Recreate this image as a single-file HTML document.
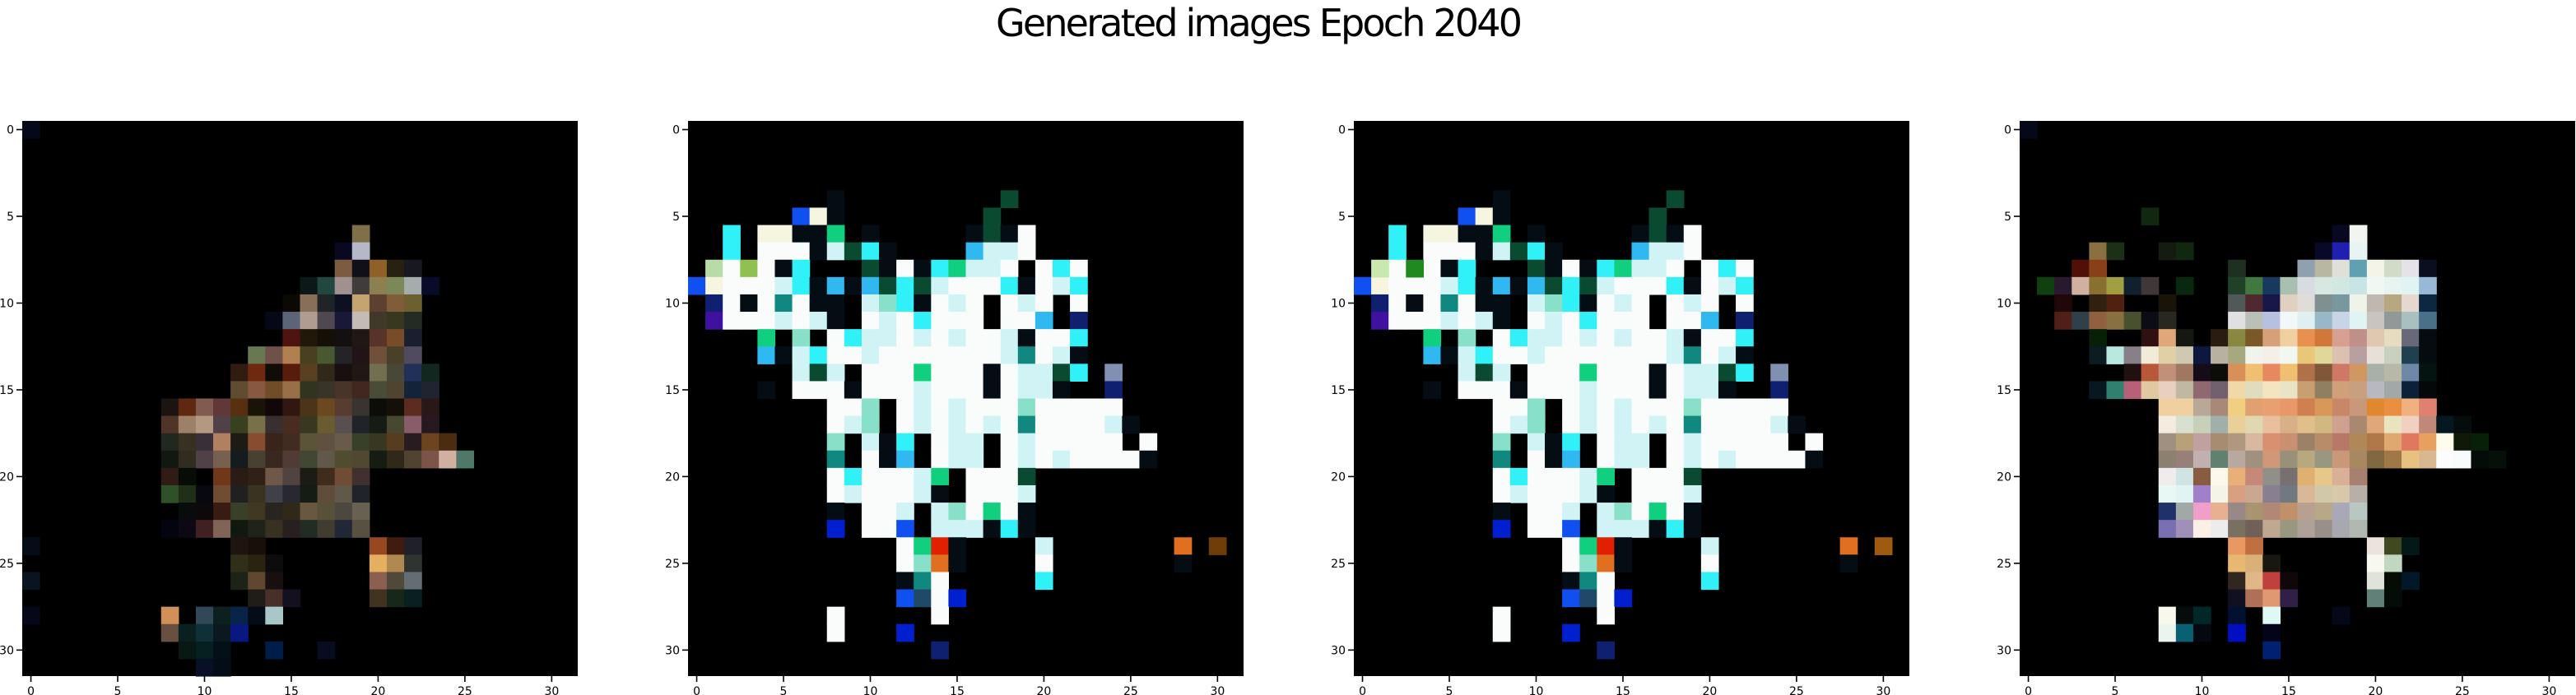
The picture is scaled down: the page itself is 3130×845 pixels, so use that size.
<!DOCTYPE html>
<html><head><meta charset="utf-8"><style>
html,body{margin:0;padding:0;background:#fff;}
svg{display:block;}
text{font-family:"DejaVu Sans","Liberation Sans",sans-serif;fill:#000;}
</style></head><body>
<svg id="fig" width="3130" height="845" viewBox="0 0 3130 845">
<text x="1530" y="44" font-size="46" text-anchor="middle" textLength="640" lengthAdjust="spacing">Generated images Epoch 2040</text>
</svg>
<script>
const ticks = [0, 5, 10, 15, 20, 25, 30];
const tickLabels = ['0', '5', '10', '15', '20', '25', '30'];
const palette2 = {W:'#fafcfc',l:'#d0f4f6',c:'#30f0f8',s:'#30b8f0',b:'#1050f0',B:'#0020d0',g:'#10d080',G:'#0a4a30',t:'#108880',k:'#040c14',y:'#f6f6e0',L:'#b8dca8',Y:'#90c050',p:'#4010a0',m:'#88e0c8',r:'#e02000',o:'#e07020',n:'#703c08',v:'#8090b0',N:'#102070',K:'#204868'};
const img2Rows = [
"","","","",
"........k.........G.............",
"......byk........G..............",
"..c.yykkg.k.....kGkW............",
"..c.WWWklGck....sllW............",
".LWYWkc...GkWkcgllW.WcW.........",
"byWWWlcksksGcGlWWWckWlc.........",
".NWkWtWkk.lmckWlW.WlW.W.........",
".pWWWlWlk.WlWcWWW.WWs.N.........",
"....g.m.WcllWlWlWWlkWWc.........",
"....sklcWWlWWWWWWWltWlk.........",
"......lGl.WWWgWWWkWllGc.v.......",
"....k.WWWkWWWlWWWkWllk..N.......",
"........WWm.WlWlWWWmWWWWW.......",
"........Wlm.WlWlWlWtWWWWlk......",
"........m.lkc.Wll.WlWWWWW.W.....",
"........t.Wks.Wll.WlWlWWWWk.....",
"........WcWWWlg.WWWG............",
"........WlWWWlk.WWWl............",
"........k.WWl.lmWgWk............",
"........B.WWb.lllkck............",
"............Wgrk....l.......o.n.",
"............Wmok....W.......k...",
"............ktW.....c...........",
"............bKWB................",
"........W.....W.................",
"........W...B...................",
"..............N.................",
""];
const img3Overrides = [[8,3,'#208a20'],[8,1,'#c8e8b0'],[24,30,'#a05a10']];
const img1 = [
[0,0,'#040818'],[6,19,'#807048'],[7,18,'#080820'],[7,19,'#b4b8c8'],
[8,18,'#7c5c40'],[8,19,'#101018'],[8,20,'#906028'],[8,21,'#282010'],[8,22,'#181820'],
[9,16,'#0c1818'],[9,17,'#204840'],[9,18,'#a09090'],[9,19,'#403c3c'],[9,20,'#8c8050'],[9,21,'#7c8858'],[9,22,'#a4acac'],[9,23,'#080c28'],
[10,15,'#0c0804'],[10,16,'#887058'],[10,17,'#202428'],[10,18,'#0c1020'],[10,19,'#c4a470'],[10,20,'#5c4030'],[10,21,'#805c38'],[10,22,'#6c6030'],
[11,14,'#060818'],[11,15,'#5c6478'],[11,16,'#b09c90'],[11,17,'#504850'],[11,18,'#181838'],[11,19,'#c4bcb4'],[11,20,'#403828'],[11,21,'#383820'],[11,22,'#202c24'],
[12,15,'#501410'],[12,16,'#201808'],[12,17,'#141008'],[12,18,'#141010'],[12,19,'#201814'],[12,20,'#583428'],[12,21,'#784c28'],[12,22,'#182030'],
[13,13,'#687850'],[13,14,'#705048'],[13,15,'#b08050'],[13,16,'#484020'],[13,17,'#485830'],[13,18,'#242428'],[13,19,'#201418'],[13,20,'#705038'],[13,21,'#484028'],[13,22,'#504c60'],
[14,12,'#301c10'],[14,13,'#702810'],[14,14,'#100c08'],[14,15,'#581c0c'],[14,16,'#584020'],[14,17,'#302818'],[14,18,'#181010'],[14,19,'#201814'],[14,20,'#707050'],[14,21,'#484838'],[14,22,'#203058'],[14,23,'#102820'],
[15,12,'#604c30'],[15,13,'#885840'],[15,14,'#704c28'],[15,15,'#987048'],[15,16,'#303420'],[15,17,'#383428'],[15,18,'#483428'],[15,19,'#402820'],[15,20,'#484c38'],[15,21,'#504430'],[15,22,'#142438'],[15,23,'#202430'],
[16,8,'#1c1410'],[16,9,'#602810'],[16,10,'#805c50'],[16,11,'#603838'],[16,12,'#583010'],[16,13,'#181408'],[16,14,'#100808'],[16,15,'#301810'],[16,16,'#4c3418'],[16,17,'#6c4820'],[16,18,'#583c30'],[16,19,'#383430'],[16,20,'#0c0c08'],[16,21,'#141008'],[16,22,'#5c2c20'],[16,23,'#281818'],
[17,8,'#503428'],[17,9,'#9c8068'],[17,10,'#b49880'],[17,11,'#504048'],[17,12,'#384020'],[17,13,'#787048'],[17,14,'#383030'],[17,15,'#482c20'],[17,16,'#383820'],[17,17,'#685c30'],[17,18,'#585050'],[17,19,'#202428'],[17,20,'#141c14'],[17,21,'#484830'],[17,22,'#885c68'],[17,23,'#281820'],
[18,8,'#202820'],[18,9,'#383020'],[18,10,'#383038'],[18,11,'#b08060'],[18,12,'#1c1c14'],[18,13,'#884c30'],[18,14,'#382418'],[18,15,'#402c20'],[18,16,'#5c5438'],[18,17,'#605040'],[18,18,'#685c48'],[18,19,'#384028'],[18,20,'#383820'],[18,21,'#583c20'],[18,22,'#281c20'],[18,23,'#6c4420'],[18,24,'#4c2c10'],
[19,8,'#101810'],[19,9,'#302c20'],[19,10,'#504048'],[19,11,'#786050'],[19,12,'#141c20'],[19,13,'#484030'],[19,14,'#382820'],[19,15,'#503c34'],[19,16,'#404834'],[19,17,'#605848'],[19,18,'#504c30'],[19,19,'#504830'],[19,20,'#141c14'],[19,21,'#302818'],[19,22,'#504430'],[19,23,'#7c5448'],[19,24,'#d0b0a0'],[19,25,'#507868'],
[20,8,'#301c14'],[20,9,'#080c08'],[20,11,'#703818'],[20,12,'#281c14'],[20,13,'#302018'],[20,14,'#705848'],[20,15,'#504440'],[20,16,'#1c1c14'],[20,17,'#402c1c'],[20,18,'#704c34'],[20,19,'#403030'],
[21,8,'#305028'],[21,9,'#203018'],[21,10,'#080810'],[21,11,'#704c30'],[21,12,'#202020'],[21,13,'#383420'],[21,14,'#404048'],[21,15,'#282830'],[21,16,'#141c14'],[21,17,'#604c38'],[21,18,'#605848'],[21,19,'#202428'],
[22,9,'#080c0c'],[22,10,'#0c080c'],[22,11,'#381c14'],[22,12,'#384028'],[22,13,'#403820'],[22,14,'#282420'],[22,15,'#302818'],[22,16,'#685840'],[22,17,'#585038'],[22,18,'#4c4840'],[22,19,'#686050'],
[23,8,'#040410'],[23,9,'#0c0814'],[23,10,'#402020'],[23,11,'#806458'],[23,12,'#101810'],[23,13,'#202418'],[23,14,'#383020'],[23,15,'#282020'],[23,16,'#202c24'],[23,17,'#403c30'],[23,18,'#202838'],[23,19,'#585040'],
[24,0,'#040c18'],[24,12,'#201410'],[24,13,'#181008'],[24,20,'#984820'],[24,21,'#401c10'],[24,22,'#202028'],
[25,12,'#303018'],[25,13,'#282410'],[25,14,'#0c0c0c'],[25,20,'#e4b060'],[25,21,'#b08850'],[25,22,'#303430'],
[26,0,'#081420'],[26,12,'#1c2418'],[26,13,'#604830'],[26,14,'#181010'],[26,20,'#8c6050'],[26,21,'#504838'],[26,22,'#646c74'],
[27,13,'#201c18'],[27,14,'#483028'],[27,15,'#141020'],[27,20,'#403420'],[27,21,'#182818'],[27,22,'#082020'],
[28,0,'#040818'],[28,8,'#d09058'],[28,10,'#304858'],[28,11,'#0c2020'],[28,12,'#082448'],[28,13,'#040c18'],[28,14,'#a8c8c8'],
[29,8,'#685040'],[29,9,'#082020'],[29,10,'#103038'],[29,11,'#0c1820'],[29,12,'#081880'],
[30,9,'#081814'],[30,10,'#042020'],[30,11,'#041018'],[30,14,'#001c48'],[30,17,'#080c20'],
[31,10,'#081028'],[31,11,'#040c18']];
const img4 = [
[0,0,'#040818'],[5,7,'#102810'],[6,18,'#080820'],[6,19,'#f2f4f0'],
[7,4,'#8a7040'],[7,5,'#1c3018'],[7,8,'#141c10'],[7,9,'#102810'],[7,17,'#080828'],[7,18,'#2020b0'],[7,19,'#e8f4f4'],
[8,3,'#501008'],[8,4,'#884018'],[8,12,'#203020'],[8,16,'#90a0b0'],[8,17,'#b8b8a0'],[8,18,'#e0e0d8'],[8,19,'#60a0b0'],[8,20,'#f4f4e8'],[8,21,'#d0dcc8'],[8,22,'#e4e4e8'],[8,23,'#081020'],
[9,1,'#104010'],[9,2,'#281830'],[9,3,'#d0b0a0'],[9,4,'#887030'],[9,5,'#a0a040'],[9,6,'#102030'],[9,7,'#403838'],[9,9,'#082810'],[9,12,'#204028'],[9,13,'#407840'],[9,14,'#183860'],[9,15,'#a8c0b0'],[9,16,'#d8dce0'],[9,17,'#d8e8e0'],[9,18,'#d0e8e0'],[9,19,'#c8e4e4'],[9,20,'#f0f8f4'],[9,21,'#e8f4f0'],[9,22,'#e0f4f4'],[9,23,'#98b8d8'],
[10,2,'#200808'],[10,4,'#302010'],[10,5,'#502010'],[10,8,'#181408'],[10,12,'#505858'],[10,13,'#502830'],[10,14,'#181848'],[10,15,'#e0d0c0'],[10,16,'#e0dcd8'],[10,17,'#809090'],[10,18,'#7898a0'],[10,19,'#f0f4e8'],[10,20,'#c0b8b0'],[10,21,'#b8a880'],[10,22,'#e4d8d0'],[10,23,'#0c2840'],
[11,2,'#502018'],[11,3,'#304048'],[11,4,'#906040'],[11,5,'#887040'],[11,6,'#485030'],[11,7,'#0c0c14'],[11,8,'#282820'],[11,12,'#e0e0e0'],[11,13,'#b8c0b8'],[11,14,'#b8c0e0'],[11,15,'#f0f8f8'],[11,16,'#e0f0f0'],[11,17,'#98b8c8'],[11,18,'#c8d4e8'],[11,19,'#e0f4f4'],[11,20,'#c8c4c0'],[11,21,'#909898'],[11,22,'#a8c0c0'],[11,23,'#487088'],
[12,4,'#082008'],[12,7,'#301010'],[12,8,'#e0a878'],[12,9,'#141810'],[12,11,'#2a1c10'],[12,12,'#888840'],[12,13,'#7a5828'],[12,14,'#d8a078'],[12,15,'#f0d0a0'],[12,16,'#e89050'],[12,17,'#d07838'],[12,18,'#d8a090'],[12,19,'#c09088'],[12,20,'#e0c8b0'],[12,21,'#e8dcc0'],[12,22,'#686878'],[12,23,'#040c10'],
[13,4,'#0c1c20'],[13,5,'#b8e8e0'],[13,6,'#888088'],[13,7,'#f0ecd8'],[13,8,'#e0d0a8'],[13,9,'#d0c8b0'],[13,10,'#0c1840'],[13,11,'#b8b0a0'],[13,12,'#a8a880'],[13,13,'#f0f4ec'],[13,14,'#f4f0e8'],[13,15,'#f0f8f0'],[13,16,'#e8c878'],[13,17,'#e0d898'],[13,18,'#dcc0b0'],[13,19,'#b8a0a0'],[13,20,'#e8e0d8'],[13,21,'#c8d0c0'],[13,22,'#204050'],[13,23,'#040c10'],
[14,6,'#201010'],[14,7,'#b85838'],[14,8,'#c09078'],[14,9,'#a07860'],[14,10,'#140c18'],[14,11,'#0c0c08'],[14,12,'#d89058'],[14,13,'#f0c070'],[14,14,'#e88860'],[14,15,'#f0c070'],[14,16,'#b07048'],[14,17,'#805838'],[14,18,'#d07868'],[14,19,'#d09860'],[14,20,'#a8b0a8'],[14,21,'#b8b8a8'],[14,22,'#7088a8'],[14,23,'#041410'],
[15,4,'#081820'],[15,5,'#308070'],[15,6,'#b86078'],[15,7,'#e0c8a0'],[15,8,'#e8d0c0'],[15,9,'#c0b8a0'],[15,10,'#906870'],[15,11,'#706070'],[15,12,'#f0d8a8'],[15,13,'#e0dcc0'],[15,14,'#f4e4c0'],[15,15,'#e8e4c8'],[15,16,'#c8a070'],[15,17,'#908060'],[15,18,'#d0a078'],[15,19,'#c8a080'],[15,20,'#b8b8c0'],[15,21,'#a0a8a8'],[15,22,'#0c2038'],[15,23,'#040808'],
[16,8,'#f0d0a0'],[16,9,'#f0d0a0'],[16,10,'#b8a898'],[16,11,'#a88878'],[16,12,'#f0d080'],[16,13,'#e0a070'],[16,14,'#e8a070'],[16,15,'#e89868'],[16,16,'#d08050'],[16,17,'#d89858'],[16,18,'#c88868'],[16,19,'#c89878'],[16,20,'#e08830'],[16,21,'#e89040'],[16,22,'#f0b080'],[16,23,'#e08070'],
[17,8,'#f4ece0'],[17,9,'#d8e0d0'],[17,10,'#c8d0b8'],[17,11,'#a0b0a8'],[17,12,'#e8d098'],[17,13,'#e0d8b0'],[17,14,'#e8c0a0'],[17,15,'#d8b088'],[17,16,'#e0c088'],[17,17,'#d0b880'],[17,18,'#d0a090'],[17,19,'#a88870'],[17,20,'#e0a878'],[17,21,'#e8e4c0'],[17,22,'#f0d0c0'],[17,23,'#c08878'],[17,24,'#041820'],[17,25,'#040c0c'],
[18,8,'#a09080'],[18,9,'#b8a078'],[18,10,'#c0a0a0'],[18,11,'#a88c70'],[18,12,'#b09880'],[18,13,'#d8b8a0'],[18,14,'#d89070'],[18,15,'#c89070'],[18,16,'#9c8068'],[18,17,'#b88c68'],[18,18,'#b87868'],[18,19,'#b08858'],[18,20,'#b07848'],[18,21,'#e0a870'],[18,22,'#e07860'],[18,23,'#e8a060'],[18,24,'#fffcec'],[18,25,'#101808'],[18,26,'#082008'],
[19,8,'#8c8070'],[19,9,'#988078'],[19,10,'#c0b0b0'],[19,11,'#608070'],[19,12,'#b8a8a0'],[19,13,'#a09080'],[19,14,'#d09878'],[19,15,'#989078'],[19,16,'#b8a880'],[19,17,'#989880'],[19,18,'#c89878'],[19,19,'#a88860'],[19,20,'#806840'],[19,21,'#a07848'],[19,22,'#e8c080'],[19,23,'#d8b890'],[19,24,'#fcfcfc'],[19,25,'#f8fcfc'],[19,26,'#040c08'],[19,27,'#041008'],
[20,8,'#f0ecec'],[20,9,'#d0e4e4'],[20,10,'#885c40'],[20,11,'#fcf8ec'],[20,12,'#e8b078'],[20,13,'#c88878'],[20,14,'#909088'],[20,15,'#787070'],[20,16,'#e0b070'],[20,17,'#e8c888'],[20,18,'#d8b098'],[20,19,'#a88070'],
[21,8,'#e8f8f4'],[21,9,'#e0f4f4'],[21,10,'#a080c8'],[21,11,'#f4f4e8'],[21,12,'#d8a080'],[21,13,'#c8a890'],[21,14,'#888090'],[21,15,'#707880'],[21,16,'#d8b898'],[21,17,'#d0c8a8'],[21,18,'#d8c8a8'],[21,19,'#b8b0a8'],
[22,8,'#203068'],[22,9,'#a0a8a8'],[22,10,'#f0a0c8'],[22,11,'#e8b090'],[22,12,'#988888'],[22,13,'#a89470'],[22,14,'#b08878'],[22,15,'#c09068'],[22,16,'#b8a090'],[22,17,'#b8a888'],[22,18,'#a8a8b8'],[22,19,'#b8c8c0'],
[23,8,'#7870b0'],[23,9,'#a090b8'],[23,10,'#fcf0e4'],[23,11,'#ececec'],[23,12,'#787060'],[23,13,'#706058'],[23,14,'#c0a890'],[23,15,'#989880'],[23,16,'#b0a098'],[23,17,'#989088'],[23,18,'#a8a8b0'],[23,19,'#b0b8b0'],
[24,12,'#e89860'],[24,13,'#c07040'],[24,20,'#ece4dc'],[24,21,'#404820'],[24,22,'#041818'],
[25,12,'#e8b870'],[25,13,'#d8b078'],[25,14,'#181810'],[25,20,'#f8f8f0'],[25,21,'#c0d8c0'],
[26,12,'#302820'],[26,13,'#e0b888'],[26,14,'#c04040'],[26,15,'#100808'],[26,20,'#e0e4d8'],[26,21,'#040c04'],[26,22,'#001828'],
[27,12,'#101020'],[27,13,'#b07058'],[27,14,'#e09870'],[27,15,'#302048'],[27,20,'#608078'],[27,21,'#040c08'],
[28,8,'#f8f8ec'],[28,9,'#040c0c'],[28,10,'#002828'],[28,12,'#001030'],[28,14,'#e0f8f4'],[28,18,'#040818'],
[29,8,'#ecf4f0'],[29,9,'#086070'],[29,10,'#040810'],[29,12,'#0010c0'],[29,14,'#040418'],
[30,14,'#002070']];

const svgNS = 'http://www.w3.org/2000/svg';
const svg = document.getElementById('fig');
const panelX = [27, 836, 1645, 2454];
const top0 = 147, size = 675, n = 32, cell = size / n;
function colX(p, c) { return panelX[p] + c * cell; }
function rowY(r) { return top0 + r * cell; }

function drawCell(g, p, r, c, color) {
  const rect = document.createElementNS(svgNS, 'rect');
  rect.setAttribute('x', colX(p, c));
  rect.setAttribute('y', rowY(r));
  rect.setAttribute('width', cell + 0.6);
  rect.setAttribute('height', cell + 0.6);
  rect.setAttribute('fill', color);
  
  
  g.appendChild(rect);
}

function drawPanel(p, cells) {
  const g = document.createElementNS(svgNS, 'g');
  
  
  svg.appendChild(g);
  const bg = document.createElementNS(svgNS, 'rect');
  bg.setAttribute('x', panelX[p]); bg.setAttribute('y', top0);
  bg.setAttribute('width', size); bg.setAttribute('height', size);
  bg.setAttribute('fill', '#000');
  
  
  g.appendChild(bg);
  cells.forEach(([r, c, col]) => drawCell(g, p, r, c, col));
  ticks.forEach((t, i) => {
    const cy = rowY(t) + cell / 2;
    const cx = colX(p, t) + cell / 2;
    const yt = document.createElementNS(svgNS, 'line');
    yt.setAttribute('x1', panelX[p] - 7); yt.setAttribute('x2', panelX[p]);
    yt.setAttribute('y1', cy); yt.setAttribute('y2', cy);
    yt.setAttribute('stroke', '#000'); yt.setAttribute('stroke-width', '1.6');
    
    
    g.appendChild(yt);
    const yl = document.createElementNS(svgNS, 'text');
    yl.setAttribute('x', panelX[p] - 10); yl.setAttribute('y', cy + 5);
    yl.setAttribute('font-size', '14'); yl.setAttribute('text-anchor', 'end');
    yl.textContent = tickLabels[i];
    
    
    g.appendChild(yl);
    const xt = document.createElementNS(svgNS, 'line');
    xt.setAttribute('x1', cx); xt.setAttribute('x2', cx);
    xt.setAttribute('y1', top0 + size); xt.setAttribute('y2', top0 + size + 7);
    xt.setAttribute('stroke', '#000'); xt.setAttribute('stroke-width', '1.6');
    
    
    g.appendChild(xt);
    const xl = document.createElementNS(svgNS, 'text');
    xl.setAttribute('x', cx); xl.setAttribute('y', top0 + size + 23);
    xl.setAttribute('font-size', '14'); xl.setAttribute('text-anchor', 'middle');
    xl.textContent = tickLabels[i];
    
    
    g.appendChild(xl);
  });
}

function rowsToCells(rows, pal) {
  const out = [];
  rows.forEach((s, r) => {
    for (let c = 0; c < Math.min(s.length, n); c++) {
      const ch = s[c];
      if (ch !== '.' && pal[ch]) out.push([r, c, pal[ch]]);
    }
  });
  return out;
}
const img2 = rowsToCells(img2Rows, palette2);
const img3 = img2.filter(([r, c]) => !img3Overrides.some(o => o[0] === r && o[1] === c)).concat(img3Overrides);

drawPanel(0, img1);
drawPanel(1, img2);
drawPanel(2, img3);
drawPanel(3, img4);
</script>
</body></html>
